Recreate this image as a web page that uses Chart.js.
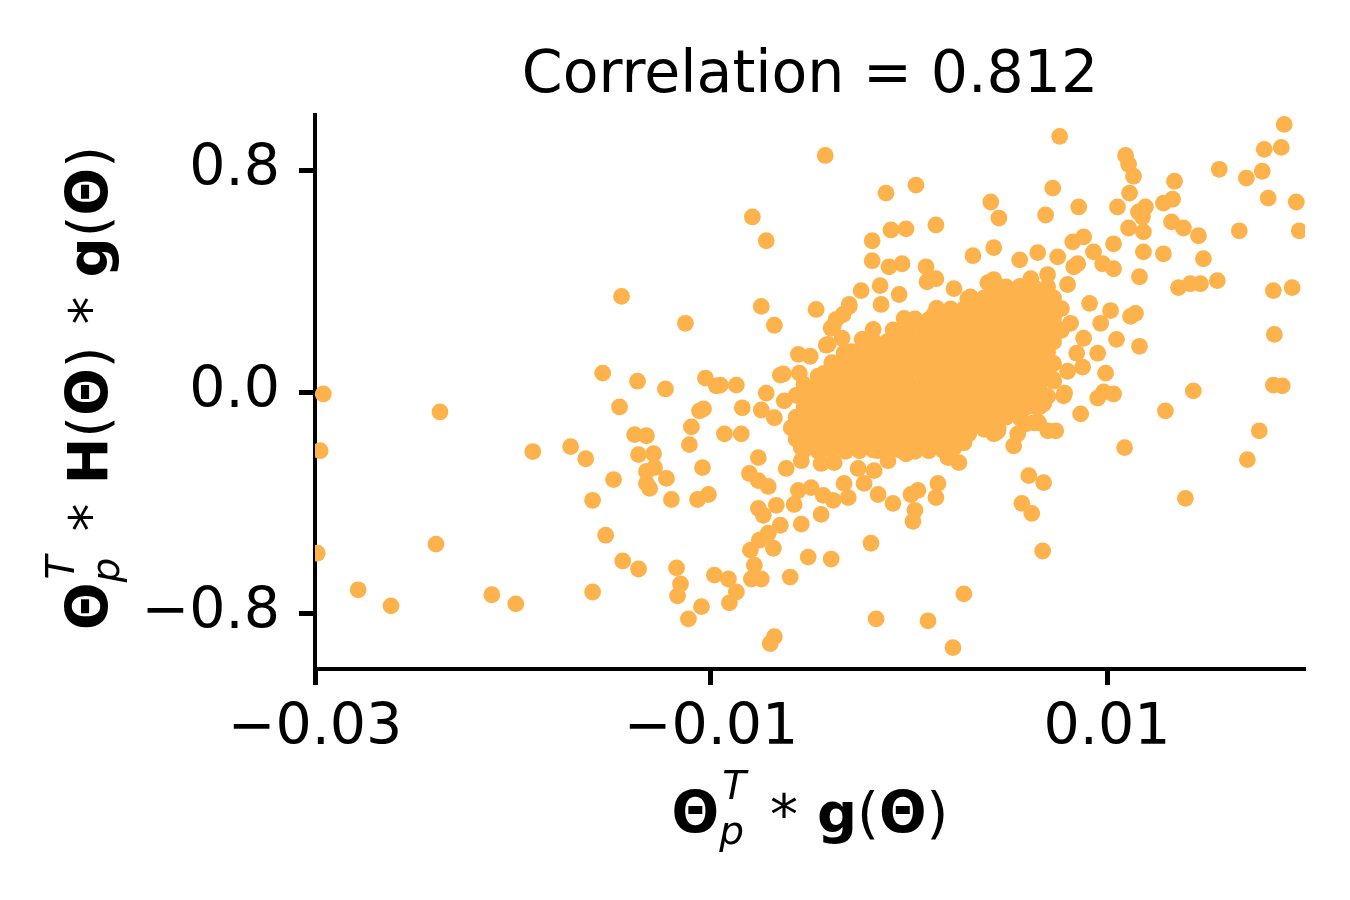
<!DOCTYPE html>
<html>
<head>
<meta charset="utf-8">
<title>Correlation scatter</title>
<script src="https://cdn.jsdelivr.net/npm/chart.js"></script>
<style>
  body { margin: 0; background: #fff; }
  #wrap { width: 1350px; height: 900px; }
</style>
</head>
<body>
<div id="wrap"><canvas id="corrChart" width="1350" height="900"></canvas></div>
<script>
// Chart text
const titleText = 'Correlation = 0.812';
const xLabelParts = [
    { t: 'Θ', f: 'b' }, { sup: 'T', sub: 'p' }, { t: '*', f: 'r', padL: 22, padR: 19, dy: 2 },
    { t: 'g', f: 'b' }, { t: '(', f: 'r' }, { t: 'Θ', f: 'b' }, { t: ')', f: 'r' }
];
const yLabelParts = [
    { t: 'Θ', f: 'b' }, { sup: 'T', sub: 'p' }, { t: '*', f: 'r', padL: 22, padR: 19, dy: 2 },
    { t: 'H', f: 'b' }, { t: '(', f: 'r' }, { t: 'Θ', f: 'b' }, { t: ')', f: 'r' },
    { t: '*', f: 'r', padL: 22, padR: 19, dy: 2 },
    { t: 'g', f: 'b' }, { t: '(', f: 'r' }, { t: 'Θ', f: 'b' }, { t: ')', f: 'r' }
];

// Axis ranges and ticks
const xRange = [-0.03, 0.02];
const yRange = [-1.0, 1.0];
const xTicks = [-0.03, -0.01, 0.01];
const yTicks = [-0.8, 0.0, 0.8];

// Scattered points around the cluster [x, y]
const outerPoints = [
    [-0.02958, -0.007], [-0.02974, -0.212], [-0.02989, -0.582], [-0.02369, -0.072],
    [-0.01547, 0.068], [-0.01371, 0.039], [-0.0123, 0.011], [-0.01028, 0.050],
    [-0.00973, 0.022], [-0.01462, -0.054], [-0.01058, -0.068], [-0.01038, -0.061],
    [-0.01099, -0.126], [-0.01109, -0.190], [-0.01386, -0.154], [-0.01326, -0.158],
    [-0.01366, -0.226], [-0.0129, -0.223], [-0.01326, -0.287], [-0.01285, -0.273],
    [-0.01326, -0.330], [-0.0131, -0.348], [-0.01225, -0.312], [-0.01043, -0.273],
    [-0.019, -0.215], [-0.01709, -0.197], [-0.01633, -0.241], [-0.01492, -0.316],
    [-0.01598, -0.391], [-0.012, -0.388], [-0.01068, -0.388], [-0.01013, -0.370],
    [-0.01532, -0.517], [-0.01446, -0.610], [-0.01366, -0.639], [-0.01174, -0.635],
    [-0.01154, -0.693], [-0.01169, -0.736], [-0.01048, -0.775], [-0.01114, -0.819],
    [-0.00983, -0.661], [-0.02389, -0.549], [-0.02782, -0.714], [-0.02616, -0.772],
    [-0.02107, -0.732], [-0.01986, -0.765], [-0.01598, -0.722],
    [-0.00423, 0.854], [-0.00116, 0.718], [0.00035, 0.747], [0.00413, 0.686],
    [0.00454, 0.628], [-0.00791, 0.632], [-0.00721, 0.546], [-0.00186, 0.546],
    [-0.00091, 0.585], [-0.00015, 0.589], [0.00136, 0.603], [0.00428, 0.521],
    [0.00323, 0.492], [-0.00186, 0.474], [-0.00101, 0.452], [-0.00035, 0.463],
    [0.00086, 0.452], [0.00091, 0.398], [0.00136, 0.409], [-0.00146, 0.384],
    [-0.00242, 0.366], [-0.0005, 0.352], [0.00227, 0.373], [0.00297, 0.337],
    [0.00398, 0.395], [0.00428, 0.406], [0.00403, 0.323], [-0.00141, 0.316],
    [-0.00746, 0.309], [-0.0068, 0.241], [-0.00469, 0.298], [-0.00302, 0.309],
    [-0.00333, 0.280], [-0.00368, 0.262], [-0.00393, 0.230], [-0.00025, 0.266],
    [-0.00181, 0.226], [-0.00338, 0.194], [-0.00237, 0.190], [-0.00418, 0.169],
    [-0.00559, 0.136], [-0.00499, 0.129], [-0.00328, 0.140], [-0.00333, 0.101],
    [-0.0065, 0.061], [-0.00554, 0.068], [-0.00459, 0.057], [-0.00953, 0.025],
    [-0.00872, 0.025], [-0.00721, -0.004], [0.0006, 0.237], [0.00136, 0.276],
    [0.00186, 0.273], [0.00262, 0.273], [-0.01452, 0.345], [-0.01129, 0.248],
    [-0.00842, -0.057], [-0.00746, -0.065], [-0.0068, -0.093], [-0.00932, -0.151],
    [-0.00847, -0.151], [-0.00761, -0.237], [-0.00806, -0.294], [-0.00761, -0.320],
    [-0.00711, -0.341], [-0.0062, -0.276], [-0.00559, -0.355], [-0.00494, -0.345],
    [-0.0058, -0.406], [-0.0067, -0.409], [-0.00761, -0.420], [-0.00736, -0.445],
    [-0.0065, -0.481], [-0.00544, -0.477], [-0.00444, -0.442], [-0.00711, -0.510],
    [-0.00756, -0.535], [-0.00801, -0.571], [-0.00685, -0.564], [-0.00781, -0.625],
    [-0.00796, -0.675], [-0.00746, -0.675], [-0.006, -0.668], [-0.00509, -0.596],
    [-0.00393, -0.603], [-0.00912, -0.675], [-0.00872, -0.722], [-0.00907, -0.761],
    [-0.00192, -0.546], [-0.00156, -0.370], [-0.00081, -0.402], [0.0001, -0.370],
    [0.00045, -0.355], [0.0003, -0.427], [0.0002, -0.467], [0.00146, -0.330],
    [0.00136, -0.381], [0.0057, -0.402], [0.0062, -0.438], [0.00605, -0.302],
    [0.0068, -0.327], [0.00675, -0.574], [0.00277, -0.729], [-0.00166, -0.819],
    [0.00096, -0.826], [0.00222, -0.923], [-0.0068, -0.883], [-0.00701, -0.908],
    [-0.00307, -0.381], [-0.00257, -0.276], [-0.00433, -0.373], [-0.00383, -0.391],
    [-0.00328, -0.330], [-0.00227, -0.330], [-0.00444, -0.258], [-0.00378, -0.255],
    [-0.00544, -0.248], [-0.00106, -0.248], [-0.00015, -0.223], [-0.00176, -0.284],
    [0.00202, -0.201], [0.00252, -0.255], [0.00277, -0.183], [0.00529, -0.194],
    [0.00438, -0.147], [0.0063, -0.111], [0.00701, -0.140], [0.0065, -0.057],
    [0.0059, -0.115],
    [0.00761, 0.923], [0.01895, 0.966], [0.01794, 0.876], [0.0188, 0.883],
    [0.01567, 0.804], [0.01704, 0.772], [0.01784, 0.797], [0.01094, 0.854],
    [0.01109, 0.822], [0.01134, 0.779], [0.01341, 0.761], [0.01114, 0.718],
    [0.00726, 0.736], [0.01814, 0.700], [0.01956, 0.686], [0.00857, 0.668],
    [0.0069, 0.639], [0.01053, 0.668], [0.01159, 0.650], [0.01194, 0.668],
    [0.01285, 0.682], [0.01331, 0.696], [0.01179, 0.632], [0.01109, 0.592],
    [0.01184, 0.578], [0.01326, 0.614], [0.01386, 0.592], [0.01462, 0.564],
    [0.01668, 0.582], [0.01971, 0.582], [0.00827, 0.542], [0.00882, 0.560],
    [0.01033, 0.535], [0.00932, 0.506], [0.01184, 0.506], [0.01285, 0.499],
    [0.01487, 0.481], [0.00559, 0.477], [0.0065, 0.503], [0.00751, 0.488],
    [0.00852, 0.463], [0.00978, 0.463], [0.01033, 0.445], [0.01164, 0.416],
    [0.01361, 0.377], [0.01421, 0.391], [0.01472, 0.391], [0.01557, 0.402],
    [0.0184, 0.366], [0.01935, 0.377], [0.01845, 0.208], [0.0184, 0.025],
    [0.01885, 0.022], [0.01436, 0.004], [0.01144, 0.284], [0.01119, 0.273],
    [0.00968, 0.248], [0.01018, 0.294], [0.00912, 0.320], [0.00816, 0.248],
    [0.00882, 0.194], [0.01048, 0.190], [0.01164, 0.165], [0.00953, 0.140],
    [0.00847, 0.140], [0.00877, 0.090], [0.00801, 0.075], [0.00993, 0.068],
    [0.00731, 0.039], [0.00786, -0.004], [0.00983, 0.000], [0.01033, -0.007],
    [0.00867, -0.079], [0.00953, -0.022], [0.01295, -0.068], [0.01769, -0.140],
    [0.01709, -0.244], [0.01089, -0.201], [0.01396, -0.384], [0.00655, -0.111],
    [0.00741, -0.140], [0.0068, -0.043], [0.006, -0.050], [0.00449, -0.140],
    [0.00549, -0.151],
    [-0.00302, 0.316], [-0.00383, 0.237], [-0.00408, 0.172], [-0.00635, 0.065],
    [-0.00227, 0.190], [0.0006, 0.244], [0.00126, 0.280], [0.00413, 0.326],
    [0.00514, 0.362], [0.00615, 0.409], [0.007, 0.424], [0.00801, 0.388],
    [0.00832, 0.452], [0.00781, -0.014], [0.00726, 0.047], [0.00428, -0.151],
    [0.00302, -0.151], [0.00227, -0.201], [0.00197, -0.237], [0.00096, -0.165],
    [-0.00055, -0.205], [-0.00156, -0.212], [-0.00307, -0.201], [-0.00428, -0.201],
    [-0.00544, -0.201], [-0.00595, -0.129], [-0.0063, -0.032]
];

// Dense core of the cluster [x, y]
const corePoints = [
    [0.0042, 0.382], [0.0049, 0.379], [0.0056, 0.381], [0.0063, 0.378], [0.0070, 0.380],
    [0.0031, 0.343], [0.0038, 0.340], [0.0045, 0.342], [0.0052, 0.339], [0.0059, 0.341],
    [0.0066, 0.343], [0.0073, 0.340],
    [0.0014, 0.303], [0.0021, 0.300], [0.0028, 0.302], [0.0035, 0.299], [0.0042, 0.301],
    [0.0049, 0.303], [0.0056, 0.300], [0.0063, 0.302], [0.0070, 0.299], [0.0077, 0.301],
    [0.0003, 0.264], [0.0010, 0.261], [0.0017, 0.263], [0.0024, 0.260], [0.0031, 0.262],
    [0.0038, 0.264], [0.0045, 0.261], [0.0052, 0.263], [0.0059, 0.260], [0.0066, 0.262],
    [0.0073, 0.264],
    [-0.0008, 0.224], [-0.0001, 0.221], [0.0007, 0.223], [0.0014, 0.220], [0.0021, 0.222],
    [0.0028, 0.224], [0.0035, 0.221], [0.0042, 0.223], [0.0049, 0.220], [0.0056, 0.222],
    [0.0063, 0.224], [0.0070, 0.221], [0.0077, 0.223],
    [-0.0018, 0.185], [-0.0011, 0.182], [-0.0004, 0.184], [0.0003, 0.181], [0.0010, 0.183],
    [0.0017, 0.185], [0.0024, 0.182], [0.0031, 0.184], [0.0038, 0.181], [0.0045, 0.183],
    [0.0052, 0.185], [0.0059, 0.182], [0.0066, 0.184], [0.0073, 0.181],
    [-0.0029, 0.146], [-0.0022, 0.143], [-0.0015, 0.145], [-0.0008, 0.142], [-0.0001, 0.144],
    [0.0007, 0.146], [0.0014, 0.143], [0.0021, 0.145], [0.0028, 0.142], [0.0035, 0.144],
    [0.0042, 0.146], [0.0049, 0.143], [0.0056, 0.145], [0.0063, 0.142], [0.0070, 0.144],
    [-0.0039, 0.106], [-0.0032, 0.103], [-0.0025, 0.105], [-0.0018, 0.102], [-0.0011, 0.104],
    [-0.0004, 0.106], [0.0003, 0.103], [0.0010, 0.105], [0.0017, 0.102], [0.0024, 0.104],
    [0.0031, 0.106], [0.0038, 0.103], [0.0045, 0.105], [0.0052, 0.102], [0.0059, 0.104],
    [0.0066, 0.106], [0.0073, 0.103],
    [-0.0043, 0.067], [-0.0036, 0.064], [-0.0029, 0.066], [-0.0022, 0.063], [-0.0015, 0.065],
    [-0.0008, 0.067], [-0.0001, 0.064], [0.0007, 0.066], [0.0014, 0.063], [0.0021, 0.065],
    [0.0028, 0.067], [0.0035, 0.064], [0.0042, 0.066], [0.0049, 0.063], [0.0056, 0.065],
    [0.0063, 0.067], [0.0070, 0.064],
    [-0.0053, 0.027], [-0.0046, 0.024], [-0.0039, 0.026], [-0.0032, 0.023], [-0.0025, 0.025],
    [-0.0018, 0.027], [-0.0011, 0.024], [-0.0004, 0.026], [0.0003, 0.023], [0.0010, 0.025],
    [0.0017, 0.027], [0.0024, 0.024], [0.0031, 0.026], [0.0038, 0.023], [0.0045, 0.025],
    [0.0052, 0.027], [0.0059, 0.024], [0.0066, 0.026],
    [-0.0057, -0.012], [-0.0050, -0.015], [-0.0043, -0.013], [-0.0036, -0.016], [-0.0029, -0.014],
    [-0.0022, -0.012], [-0.0015, -0.015], [-0.0008, -0.013], [-0.0001, -0.016], [0.0007, -0.014],
    [0.0014, -0.012], [0.0021, -0.015], [0.0028, -0.013], [0.0035, -0.016], [0.0042, -0.014],
    [0.0049, -0.012], [0.0056, -0.015], [0.0063, -0.013], [0.0070, -0.016],
    [-0.0053, -0.052], [-0.0046, -0.055], [-0.0039, -0.053], [-0.0032, -0.056], [-0.0025, -0.054],
    [-0.0018, -0.052], [-0.0011, -0.055], [-0.0004, -0.053], [0.0003, -0.056], [0.0010, -0.054],
    [0.0017, -0.052], [0.0024, -0.055], [0.0031, -0.053], [0.0038, -0.056], [0.0045, -0.054],
    [0.0052, -0.052], [0.0059, -0.055], [0.0066, -0.053],
    [-0.0057, -0.091], [-0.0050, -0.094], [-0.0043, -0.092], [-0.0036, -0.095], [-0.0029, -0.093],
    [-0.0022, -0.091], [-0.0015, -0.094], [-0.0008, -0.092], [-0.0001, -0.095], [0.0007, -0.093],
    [0.0014, -0.091], [0.0021, -0.094], [0.0028, -0.092], [0.0035, -0.095], [0.0042, -0.093],
    [0.0049, -0.091], [0.0056, -0.094],
    [-0.0053, -0.131], [-0.0046, -0.134], [-0.0039, -0.132], [-0.0032, -0.135], [-0.0025, -0.133],
    [-0.0018, -0.131], [-0.0011, -0.134], [-0.0004, -0.132], [0.0003, -0.135], [0.0010, -0.133],
    [0.0017, -0.131], [0.0024, -0.134], [0.0031, -0.132], [0.0038, -0.135], [0.0045, -0.133],
    [-0.0057, -0.170], [-0.0050, -0.173], [-0.0043, -0.171], [-0.0036, -0.174], [-0.0029, -0.172],
    [-0.0022, -0.170], [-0.0015, -0.173], [-0.0008, -0.171], [-0.0001, -0.174], [0.0007, -0.172],
    [0.0014, -0.170], [0.0021, -0.173], [0.0028, -0.171],
    [-0.0053, -0.210], [-0.0046, -0.213], [-0.0039, -0.211], [-0.0032, -0.214], [-0.0025, -0.212],
    [-0.0018, -0.210], [-0.0011, -0.213], [-0.0004, -0.211], [0.0003, -0.214], [0.0010, -0.212],
    [0.0017, -0.210]
];

const dotColor = '#fdb24c';
const FONT = "'DejaVu Sans'";
const TICK_SIZE = 57;
const TITLE_SIZE = 58.5;
const LABEL_SIZE = 56;
const SCRIPT_SIZE = 39;

const fmtMinus = s => s.replace('-', '\u2212');

const partFont = (kind) => {
    if (kind === 'b') return `bold ${LABEL_SIZE}px ${FONT}`;
    if (kind === 's') return `italic ${SCRIPT_SIZE}px ${FONT}`;
    return `${LABEL_SIZE}px ${FONT}`;
};

// draw a label made of bold / regular / script pieces, centred on cx
const drawMath = (ctx, parts, cx, base) => {
    ctx.textAlign = 'left';
    const widths = parts.map(p => {
        if (p.sup) {
            ctx.font = partFont('s');
            return Math.max(ctx.measureText(p.sup).width + 3, ctx.measureText(p.sub).width) + 2;
        }
        ctx.font = partFont(p.f);
        return ctx.measureText(p.t).width + (p.padL || 0) + (p.padR || 0);
    });
    let x = cx - widths.reduce((a, b) => a + b, 0) / 2;
    parts.forEach((p, i) => {
        if (p.sup) {
            ctx.font = partFont('s');
            ctx.fillText(p.sup, x + 3, base - 33);
            ctx.fillText(p.sub, x, base + 12);
        } else {
            ctx.font = partFont(p.f);
            ctx.fillText(p.t, x + (p.padL || 0), base + (p.dy || 0));
        }
        x += widths[i];
    });
};

const textPlugin = {
    id: 'textPlugin',
    afterDraw(chart) {
        const ctx = chart.ctx;
        const area = chart.chartArea;
        const cx = (area.left + area.right) / 2;
        ctx.save();
        ctx.fillStyle = '#000';
        ctx.textBaseline = 'alphabetic';
        ctx.textAlign = 'center';
        ctx.font = `${TITLE_SIZE}px ${FONT}`;
        ctx.fillText(titleText, cx, 92);
        drawMath(ctx, xLabelParts, cx, 832);
        ctx.translate(107, 388);
        ctx.rotate(-Math.PI / 2);
        drawMath(ctx, yLabelParts, 0, 0);
        ctx.restore();
    }
};

const axisStyle = {
    grid: { drawOnChartArea: false, drawTicks: true, tickLength: 16, tickWidth: 5, tickColor: '#000' },
    border: { display: true, color: '#000', width: 4 }
};

new Chart(document.getElementById('corrChart').getContext('2d'), {
    type: 'scatter',
    data: {
        datasets: [{
            data: outerPoints.concat(corePoints).map(([x, y]) => ({ x, y })),
            backgroundColor: dotColor,
            pointRadius: 8.4,
            pointBorderWidth: 0,
            pointHoverRadius: 8.4,
            clip: 0
        }]
    },
    options: {
        responsive: false,
        animation: false,
        devicePixelRatio: 1,
        layout: { padding: { top: 115, right: 45, left: 0, bottom: 0 } },
        plugins: {
            legend: { display: false },
            tooltip: { enabled: false },
            title: { display: false }
        },
        scales: {
            x: {
                type: 'linear',
                min: xRange[0],
                max: xRange[1],
                ...axisStyle,
                afterBuildTicks: s => { s.ticks = xTicks.map(v => ({ value: v })); },
                afterFit: s => { s.height = 231; },
                ticks: {
                    color: '#000',
                    font: { family: FONT, size: TICK_SIZE },
                    padding: 10,
                    maxRotation: 0,
                    autoSkip: false,
                    callback: v => fmtMinus(v.toFixed(2))
                }
            },
            y: {
                type: 'linear',
                min: yRange[0],
                max: yRange[1],
                ...axisStyle,
                afterBuildTicks: s => { s.ticks = yTicks.map(v => ({ value: v })); },
                afterFit: s => { s.width = 315; },
                ticks: {
                    color: '#000',
                    font: { family: FONT, size: TICK_SIZE },
                    padding: 19,
                    autoSkip: false,
                    callback: v => fmtMinus(v.toFixed(1))
                }
            }
        }
    },
    plugins: [textPlugin]
});
</script>
</body>
</html>
